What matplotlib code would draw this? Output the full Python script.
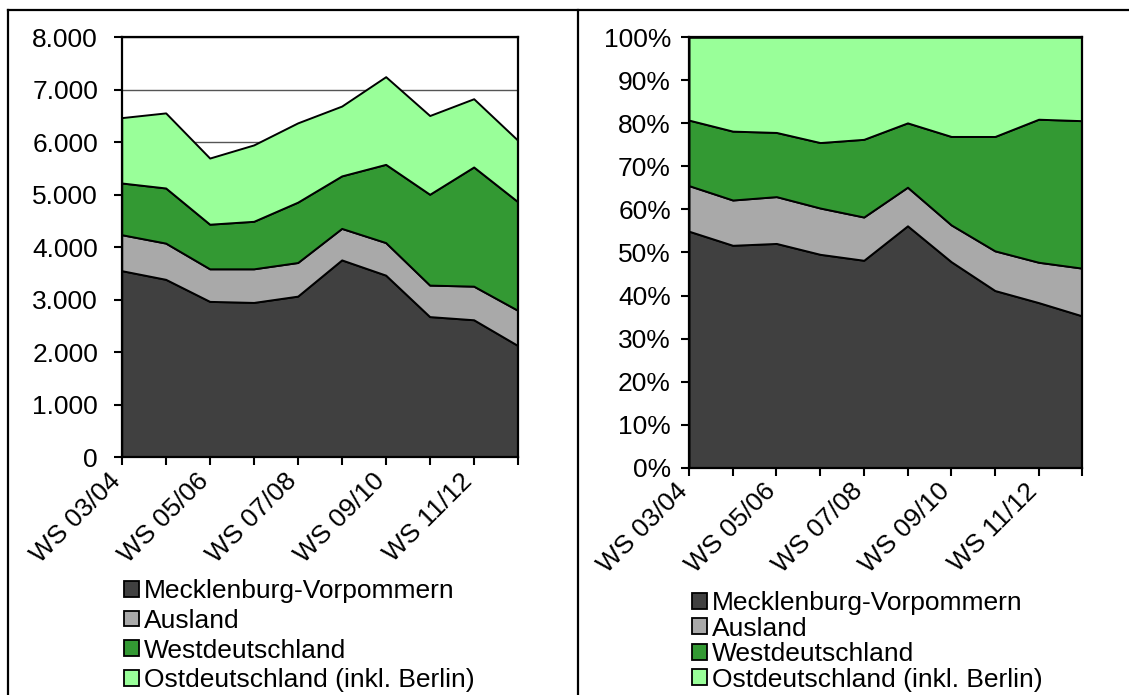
import matplotlib
matplotlib.use("Agg")
import matplotlib.pyplot as plt
import numpy as np
from matplotlib.patches import Patch
from matplotlib.lines import Line2D
from matplotlib.ticker import FuncFormatter, MultipleLocator
from matplotlib.transforms import ScaledTranslation

plt.rcParams['font.family'] = ['Liberation Sans', 'DejaVu Sans']

semesters = ["WS 03/04", "WS 04/05", "WS 05/06", "WS 06/07", "WS 07/08",
             "WS 08/09", "WS 09/10", "WS 10/11", "WS 11/12", "WS 12/13"]
series_names = ["Mecklenburg-Vorpommern", "Ausland", "Westdeutschland",
                "Ostdeutschland (inkl. Berlin)"]
mv = [3555, 3390, 2970, 2950, 3070, 3760, 3470, 2680, 2620, 2130]
ausland = [685, 690, 620, 640, 640, 600, 620, 600, 640, 670]
west = [985, 1050, 850, 905, 1150, 1000, 1490, 1730, 2270, 2070]
ost = [1245, 1430, 1260, 1455, 1510, 1330, 1670, 1500, 1300, 1170]
colors = ["#404040", "#A9A9A9", "#339933", "#99FF99"]

data = np.array([mv, ausland, west, ost], dtype=float)
shares = data / data.sum(axis=0) * 100
x = np.arange(len(semesters))
labels = [s if i % 2 == 0 else "" for i, s in enumerate(semesters)]

W, H = 1129, 695
fig = plt.figure(figsize=(W / 100, H / 100), dpi=100)

def box(l, t, r, b):
    return [l / W, 1 - b / H, (r - l) / W, (b - t) / H]

FS = 19
shift = ScaledTranslation(-5 / 100, -6 / 100, fig.dpi_scale_trans)

def style(ax):
    for s in ax.spines.values():
        s.set_linewidth(1.6)
        s.set_color("black")
    ax.tick_params(axis="both", direction="out", length=6, width=1.5,
                   labelsize=FS, colors="black")
    ax.set_xlim(0, len(semesters) - 1)
    ax.set_xticks(x)
    ax.set_xticklabels(labels, rotation=45, ha="right", va="center",
                       rotation_mode="anchor")
    ax.tick_params(axis="x", pad=4)
    for lab in ax.get_xticklabels():
        lab.set_transform(lab.get_transform() + shift)

# Left panel: absolute numbers
ax1 = fig.add_axes(box(121.7, 37.3, 517.7, 457.3))
ax1.set_ylim(0, 8000)
ax1.yaxis.set_major_locator(MultipleLocator(1000))
ax1.yaxis.set_major_formatter(FuncFormatter(lambda v, p: f"{int(v):,}".replace(",", ".")))
ax1.grid(axis="y", color="#555555", linewidth=1.0)
ax1.set_axisbelow(True)
ax1.stackplot(x, data, colors=colors, edgecolor="black", linewidth=1.4, zorder=2)
style(ax1)
ax1.tick_params(axis="y", pad=11)

# Right panel: shares
ax2 = fig.add_axes(box(689, 37.3, 1082.3, 467.7))
ax2.set_ylim(0, 100)
ax2.yaxis.set_major_locator(MultipleLocator(10))
ax2.yaxis.set_major_formatter(FuncFormatter(lambda v, p: f"{int(round(v))}%"))
ax2.stackplot(x, shares, colors=colors, edgecolor="black", linewidth=1.4, zorder=2)
style(ax2)
ax2.tick_params(axis="y", pad=7)

handles = [Patch(facecolor=c, edgecolor="black", linewidth=1.3) for c in colors]
leg_kw = dict(frameon=False, fontsize=FS, handlelength=0.55, handleheight=0.55,
              handletextpad=0.2, borderpad=0, borderaxespad=0, loc="upper left")
fig.legend(handles, series_names, bbox_to_anchor=(124 / W, 1 - 579 / H),
           labelspacing=0.22, **leg_kw)
fig.legend(handles, series_names, bbox_to_anchor=(692 / W, 1 - 591 / H),
           labelspacing=0.06, **leg_kw)

# frame lines of the page
fig.add_artist(Line2D([8 / W, 1], [1 - 10 / H, 1 - 10 / H], color="black", linewidth=1.6))
fig.add_artist(Line2D([8 / W, 8 / W], [0, 1 - 10 / H], color="black", linewidth=1.6))
fig.add_artist(Line2D([577.7 / W, 577.7 / W], [0, 1 - 10 / H], color="black", linewidth=1.6))

fig.savefig("out.png", dpi=100)
